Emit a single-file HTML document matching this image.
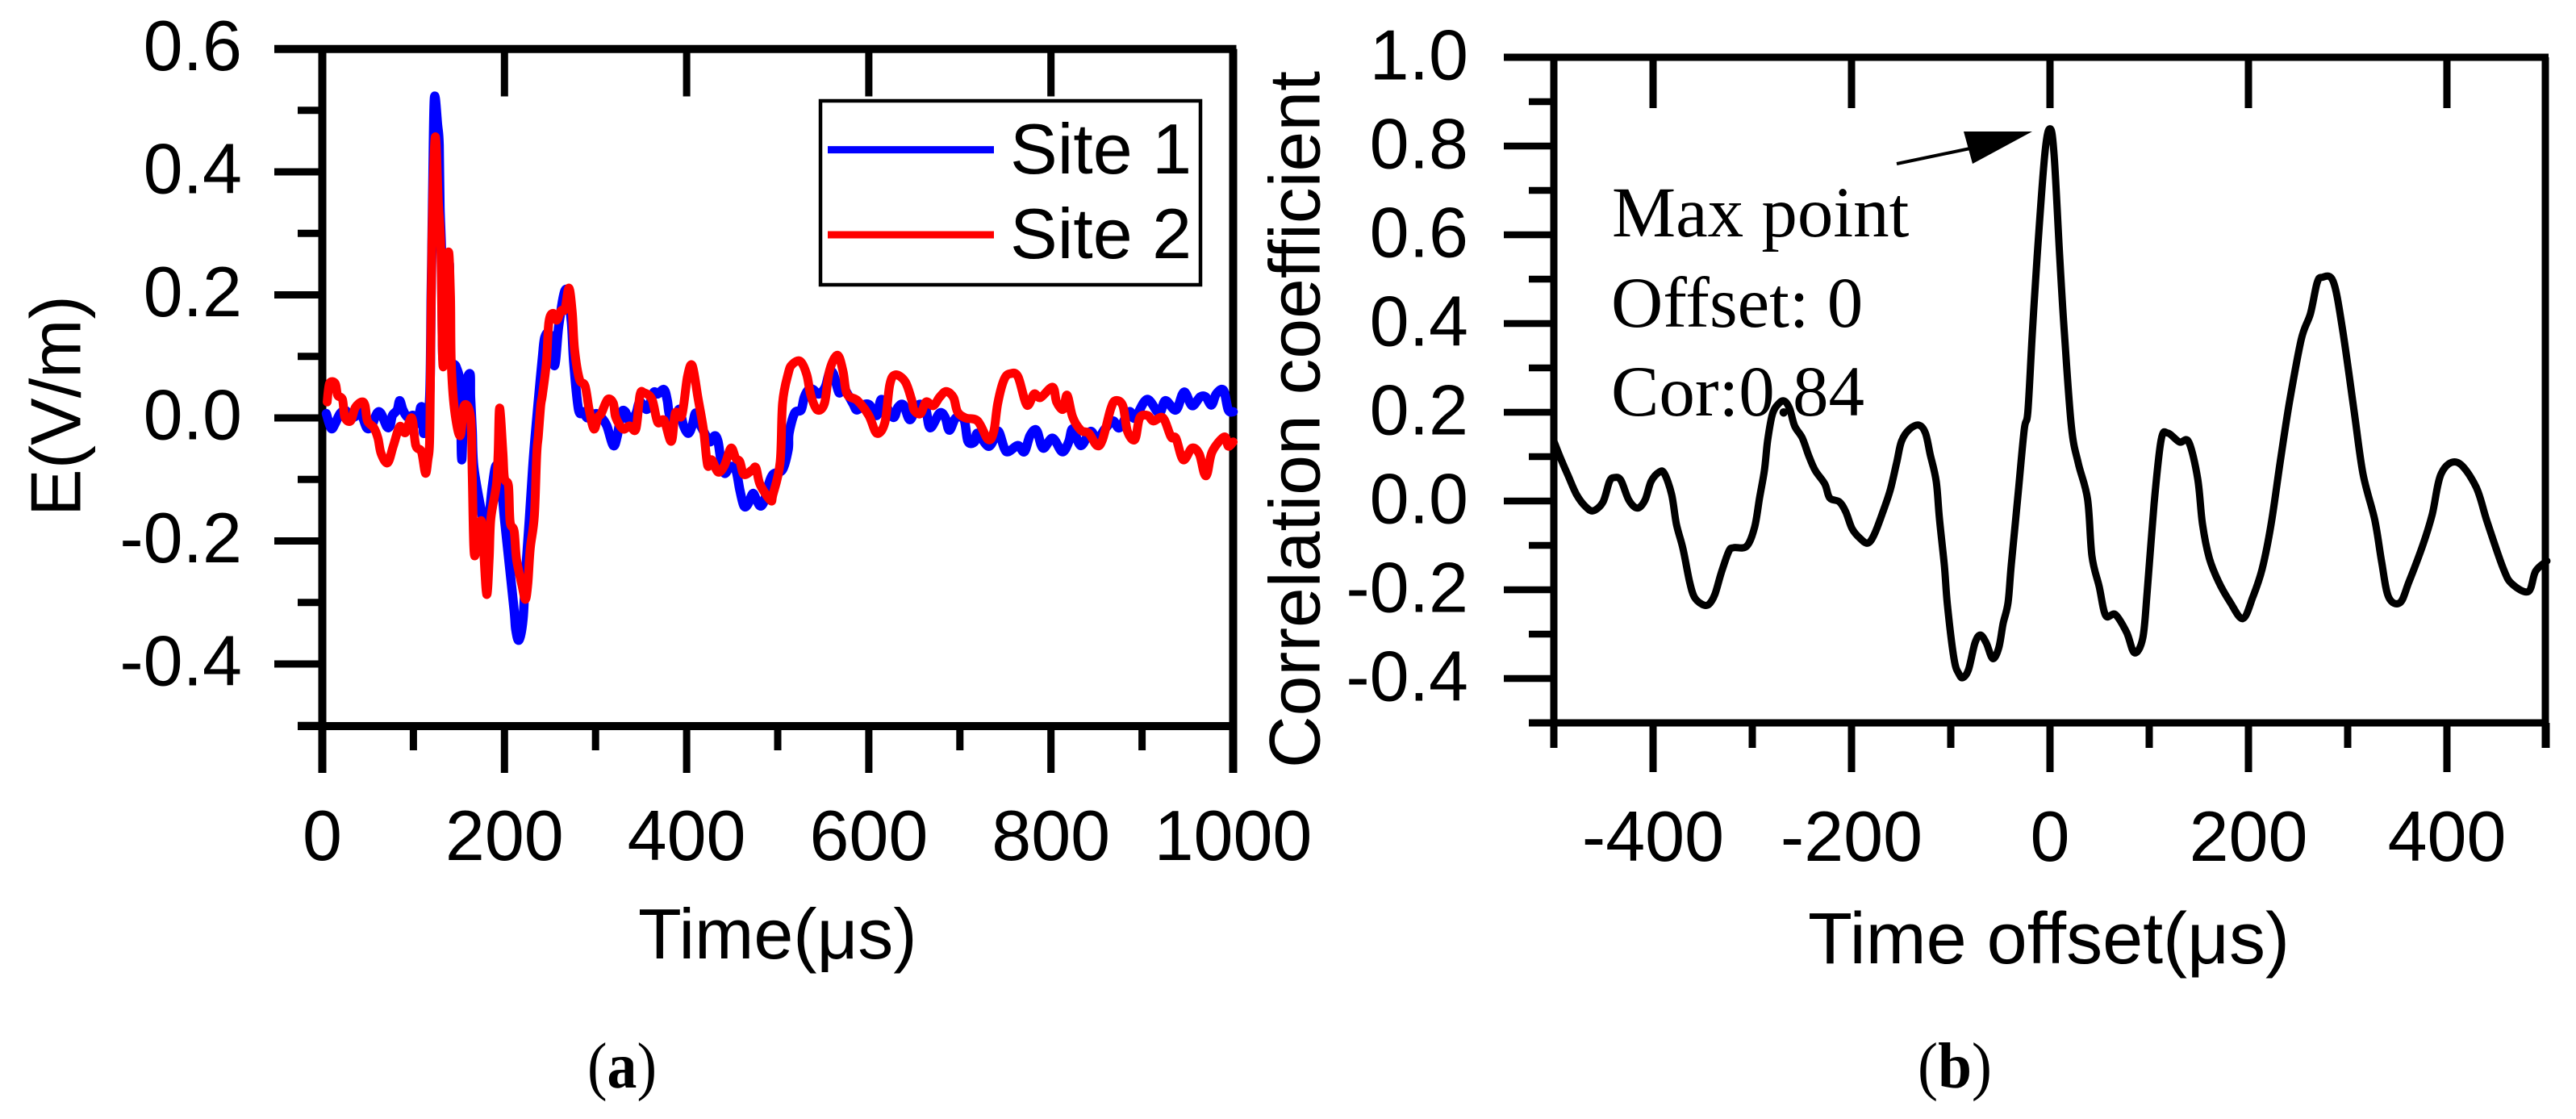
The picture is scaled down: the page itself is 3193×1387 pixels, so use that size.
<!DOCTYPE html>
<html lang="en">
<head>
<meta charset="utf-8">
<title>Electric field waveforms and correlation coefficient</title>
<style>
html,body{margin:0;padding:0;background:#fff;}
svg{display:block;}
.sans{font-family:"Liberation Sans",Arial,sans-serif;font-size:88px;fill:#000;}
.serif{font-family:"Liberation Serif","Times New Roman",serif;font-size:89px;fill:#000;}
.cap{font-family:"Liberation Serif","Times New Roman",serif;font-size:80px;fill:#000;}
</style>
</head>
<body>
<svg id="figure" xmlns="http://www.w3.org/2000/svg" width="3193" height="1387" viewBox="0 0 3193 1387">
  <rect x="0" y="0" width="3193" height="1387" fill="#fff"/>
  <g id="panel-a"></g>
  <g id="panel-b"></g>

  <text class="sans" transform="translate(99.5,640) rotate(-90)">E(V/m)</text>
  <text class="sans" x="791" y="1188">Time(μs)</text>
  <text class="cap" x="728" y="1348" textLength="86" lengthAdjust="spacingAndGlyphs">(<tspan font-weight="bold">a</tspan>)</text>

  <g>
    <rect x="1017" y="125" width="471" height="228" fill="#fff" stroke="#000" stroke-width="4.5"/>
    <line x1="1026" y1="185.6" x2="1232" y2="185.6" stroke="#0000ff" stroke-width="9"/>
    <text class="sans" x="1252" y="215">Site 1</text>
    <line x1="1026" y1="291" x2="1232" y2="291" stroke="#ff0000" stroke-width="9"/>
    <text class="sans" x="1252" y="320">Site 2</text>
  </g>

  <text class="sans" transform="translate(1635.5,952) rotate(-90)" style="font-size:89.5px">Correlation coefficient</text>
  <text class="sans" x="2241" y="1194" style="font-size:90px">Time offset(μs)</text>
  <text class="cap" x="2377" y="1348" textLength="92" lengthAdjust="spacingAndGlyphs">(<tspan font-weight="bold">b</tspan>)</text>

  <g>
    <text class="serif" x="1998" y="293">Max point</text>
    <text class="serif" x="1997" y="405">Offset: 0</text>
    <text class="serif" x="1997" y="515">Cor:0.84</text>
    <line x1="2351" y1="203" x2="2442" y2="184" stroke="#000" stroke-width="4"/>
    <polygon points="2519,163 2434,163 2445,203" fill="#000"/>
  </g>
</svg>

<script>
const aXMajor = [0, 200, 400, 600, 800, 1000];
const aXMinor = [100, 300, 500, 700, 900];
const aYMajor = [0.6, 0.4, 0.2, 0.0, -0.2, -0.4];
const aYMinor = [0.5, 0.3, 0.1, -0.1, -0.3, -0.5];
const aXLabels = ['0', '200', '400', '600', '800', '1000'];
const aYLabels = ['0.6', '0.4', '0.2', '0.0', '-0.2', '-0.4'];

const bXMajor = [-400, -200, 0, 200, 400];
const bXMinor = [-500, -300, -100, 100, 300, 500];
const bYMajor = [1.0, 0.8, 0.6, 0.4, 0.2, 0.0, -0.2, -0.4];
const bYMinor = [0.9, 0.7, 0.5, 0.3, 0.1, -0.1, -0.3, -0.5];
const bXLabels = ['-400', '-200', '0', '200', '400'];
const bYLabels = ['1.0', '0.8', '0.6', '0.4', '0.2', '0.0', '-0.2', '-0.4'];

const site1Time = [4.4,9.7,14.2,19.5,25.7,31,38,42.5,48.7,54,60.2,64.6,70.8,74.3,77,82.3,85,88.5,93.8,100,104.4,108,110.6,111.5,117.7,119.5,121.2,123,126.6,128.3,129.2,131,132.7,139,139.8,140.7,146.9,151.3,153.1,155.8,162,162.8,164.6,166.4,175.2,180.5,186.7,191.2,196.5,200,204.4,210.6,212.4,215.9,220.4,223,227.4,231,234.5,238,241.6,244.3,249.6,254.9,259.3,263.7,266.4,269,273.5,276.1,281.4,286.7,291.2,300,306.2,312.4,319.5,323.9,328.3,332.8,337.2,344.3,348.7,356.7,363.7,368.2,375.2,378.8,381.4,387.6,392,396.5,401.8,406.2,409.8,414.2,421.3,425.7,431,434.5,437.2,441.6,447.8,454,458.4,462.9,467.3,472.6,476.1,480.6,485,489.4,494.7,505.3,511.5,512.4,518.6,525.7,529.2,534.5,539,545.2,552.2,556.7,561.1,567.3,571.7,582.3,586.8,593.8,600.9,608.9,614.2,626.6,631.9,638.1,645.2,653.1,662,667.3,677.9,684.1,688.5,695.6,704.5,708.9,716,719.5,731,738.1,742.5,748.7,753.1,763.8,770.8,777,784.1,791.2,801.8,812.4,819.5,823.9,832.8,843.4,850.5,859.3,868.2,875.3,885.9,892.1,905.4,918.6,925.7,937.2,946.1,954.9,963.8,970,976.2,981.5,989.4,994.7,1000];
const site1E = [.007,-.017,-.009,.007,.012,0,.004,.008,-.016,-.013,.008,.007,-.014,-.013,.004,.013,.028,.013,.001,.004,-.009,.017,.010,-.025,.028,.198,.365,.519,.476,.443,.342,.264,.093,.250,.177,.098,.083,.050,-.068,.039,.072,.033,-.020,-.081,-.156,-.190,-.111,-.077,-.111,-.164,-.226,-.313,-.344,-.361,-.327,-.256,-.164,-.081,-.016,.041,.098,.131,.135,.085,.146,.190,.207,.203,.155,.089,.013,.010,0,.007,.001,-.013,-.045,-.029,.008,.010,-.005,.007,.026,.014,.041,.039,.046,.028,.004,-.003,.014,-.012,-.025,-.012,.008,-.009,-.029,-.039,-.029,-.039,-.064,-.090,-.079,-.085,-.117,-.143,-.140,-.123,-.131,-.143,-.136,-.111,-.092,-.084,-.051,-.025,.008,.013,.034,.047,.046,.039,.050,.073,.072,.041,.050,.024,.013,.021,.021,.004,.030,.001,.017,.021,-.003,.020,.017,-.016,.008,0,-.020,0,-.003,-.038,-.039,-.025,-.046,-.033,-.022,-.049,-.055,-.045,-.055,-.029,-.020,-.049,-.033,-.055,-.039,-.018,-.045,-.022,-.035,-.018,-.005,-.016,.010,0,.030,.008,.028,.013,.042,.020,.034,.034,.021,.039,.045,.013,.010];

const site2Time = [5.3,8,14.2,16.8,22.1,24.8,31,36.3,43.4,46.9,49.6,56.6,61.1,64.6,71.7,77.9,85,91.2,98.2,102.7,108.9,113.3,115.9,117.7,118.6,120.4,123.9,127.4,130.1,132.7,138.1,140.7,141.6,145.1,151.3,155.8,162.8,164.6,166.4,169,174.3,177,180.5,183.2,185,191.2,193,194.7,198.2,200,204.4,206.2,210.6,213.3,219.5,223,225.7,228.3,232.8,235.4,237.2,239.8,241.6,246,248.7,253.1,257.5,262,266.4,270.8,274.4,277,282.3,288.5,292.9,298.2,302.7,306.2,313.3,319.5,322.1,330.1,337.2,344.3,348.7,353.1,362,368.2,375.2,383.2,387.6,394.7,400.9,406.2,412.4,418.6,423,427.5,434.5,441.6,448.7,454,458.4,462.9,471.7,476.1,480.6,492.1,494.7,502.7,505.3,511.5,515.9,524.8,531.9,536.3,543.4,551.4,556.7,565.5,571.7,576.1,587.6,600,608.9,617.7,623,629.2,639.9,646.9,649.6,656.7,662.9,670.8,677.9,685,693,697.4,706.2,719.5,731,737.2,741.6,748.7,755.8,763.8,773.5,781.5,788.5,801.8,806.2,813.3,817.7,823.9,832.8,841.6,850.5,856.7,865.5,870.8,878.8,884.1,892.1,897.4,906.2,912.4,923,931.9,937.2,945.2,954.9,962.9,968.2,971.7,977,990.3,994.7,1000];
const site2E = [.026,.056,.056,.037,.030,.001,-.005,.017,.026,.020,-.005,-.016,-.033,-.058,-.073,-.046,-.014,-.024,0,-.045,-.055,-.090,-.068,-.042,.046,.286,.456,.351,.277,.083,.266,.198,.089,.014,-.029,.020,.001,-.090,-.212,-.215,-.167,-.212,-.287,-.230,-.164,-.108,-.059,.016,-.055,-.098,-.111,-.169,-.184,-.230,-.274,-.295,-.269,-.212,-.160,-.059,-.029,.020,.037,.089,.155,.170,.159,.174,.177,.211,.172,.111,.063,.052,.014,-.018,.001,.007,.030,.024,.001,-.018,-.013,-.018,.037,.041,.030,-.007,-.004,-.038,.008,.004,.067,.085,.033,-.020,-.077,-.068,-.088,-.077,-.049,-.066,-.071,-.092,-.085,-.081,-.108,-.134,-.125,-.072,.024,.072,.087,.092,.070,.037,.013,.024,.076,.102,.076,.039,.028,.004,-.025,-.007,.054,.070,.059,.030,.013,.007,.026,.020,.034,.043,.033,.010,0,-.005,-.035,-.022,.024,.063,.072,.067,.021,.039,.033,.050,.026,.014,.037,.001,-.020,-.025,-.045,-.035,.014,.028,.020,-.022,-.035,0,.004,-.005,0,-.031,-.033,-.068,-.049,-.059,-.090,-.090,-.055,-.031,-.046,-.039];

const corrOffset = [-500,-493.5,-485.4,-477.2,-467.9,-460.2,-450.4,-443.9,-439,-432.5,-424.4,-415.8,-408.1,-402,-394,-388.6,-381.3,-376.4,-369.9,-363.4,-358.5,-350.4,-343.9,-337.8,-331.3,-323.6,-318.7,-305.7,-297.6,-292.7,-287.8,-284.6,-279.7,-273.2,-267.5,-262.2,-257.3,-249.6,-243.1,-236.6,-226.8,-222,-212.2,-205.7,-199.5,-191.5,-183.7,-177.2,-169.1,-161,-154.5,-149.6,-141.5,-132,-125.5,-120.7,-114.6,-111.4,-106.5,-103.3,-96.7,-91.9,-87.8,-82.1,-75.6,-70.2,-64.2,-57.7,-51.6,-47.2,-42.3,-39,-32.5,-26,-22.3,-17.9,-13,-5.2,0,4.1,9.8,14.6,21.6,28.5,37.9,42.3,49.6,56.1,65.9,77.2,85.1,93.5,98,104.9,112,118.7,130.5,139.8,148.8,153.7,160.6,169.9,181.3,194.3,204.5,213.8,222.8,232.5,241.5,253.2,262.4,269.1,274,285.4,294.8,306.5,315.4,327.2,334.1,341.1,352.8,361.8,375.6,385.1,394.3,410.6,429.1,440.6,456.9,465.8,482.1,489.4,500.8];
const corrValue = [.135,.098,.056,.015,-.013,-.022,-.002,.044,.053,.047,.002,-.016,.002,.044,.065,.062,.015,-.053,-.107,-.180,-.216,-.233,-.233,-.211,-.162,-.113,-.105,-.102,-.058,.007,.069,.135,.196,.220,.225,.207,.169,.142,.102,.069,.038,.007,-.002,-.025,-.062,-.084,-.095,-.076,-.029,.025,.087,.135,.162,.171,.153,.105,.044,-.040,-.144,-.235,-.356,-.389,-.398,-.380,-.320,-.302,-.320,-.355,-.331,-.276,-.229,-.144,.007,.160,.202,.375,.549,.782,.839,.782,.549,.375,.167,.085,.004,-.124,-.193,-.258,-.256,-.296,-.342,-.309,-.204,-.007,.138,.153,.133,.133,.051,-.053,-.129,-.182,-.227,-.265,-.216,-.153,-.053,.096,.225,.364,.422,.491,.504,.495,.387,.202,.062,-.042,-.135,-.216,-.229,-.182,-.100,-.031,.062,.087,.033,-.047,-.153,-.187,-.204,-.158,-.135];

const NS = 'http://www.w3.org/2000/svg';

function ax(t) { return 399.5 + t * 1.129; }
function ay(v) { return 518 - v * 762.5; }
function bx(t) { return 2541 + t * 1.23; }
function by(v) { return 71 + (1 - v) * 550; }

function addLine(parent, name, x1, y1, x2, y2, width) {
  const el = document.createElementNS(NS, 'line');
  
  
  el.setAttribute('x1', x1);
  el.setAttribute('y1', y1);
  el.setAttribute('x2', x2);
  el.setAttribute('y2', y2);
  el.setAttribute('stroke', '#000');
  el.setAttribute('stroke-width', width);
  parent.appendChild(el);
}

function addText(parent, name, x, y, anchor, label) {
  const el = document.createElementNS(NS, 'text');
  
  
  el.setAttribute('class', 'sans');
  el.setAttribute('x', x);
  el.setAttribute('y', y);
  el.setAttribute('text-anchor', anchor);
  el.textContent = label;
  parent.appendChild(el);
}

function smoothPath(xs, ys, fx, fy) {
  const px = xs.map(fx);
  const py = ys.map(fy);
  const n = px.length;
  let d = 'M' + px[0].toFixed(1) + ' ' + py[0].toFixed(1);
  for (let i = 0; i < n - 1; i++) {
    const a = Math.max(i - 1, 0);
    const b = Math.min(i + 2, n - 1);
    const c1x = px[i] + (px[i + 1] - px[a]) / 6;
    const c1y = py[i] + (py[i + 1] - py[a]) / 6;
    const c2x = px[i + 1] - (px[b] - px[i]) / 6;
    const c2y = py[i + 1] - (py[b] - py[i]) / 6;
    d += 'C' + c1x.toFixed(1) + ' ' + c1y.toFixed(1) + ' ' + c2x.toFixed(1) + ' ' + c2y.toFixed(1) + ' ' + px[i + 1].toFixed(1) + ' ' + py[i + 1].toFixed(1);
  }
  return d;
}

function addSeries(parent, name, xs, ys, fx, fy, color, width) {
  const el = document.createElementNS(NS, 'path');
  
  
  el.setAttribute('d', smoothPath(xs, ys, fx, fy));
  el.setAttribute('fill', 'none');
  el.setAttribute('stroke', color);
  el.setAttribute('stroke-width', width);
  el.setAttribute('stroke-linejoin', 'round');
  el.setAttribute('stroke-linecap', 'round');
  parent.appendChild(el);
}

function drawPanelA() {
  const g = document.getElementById('panel-a');
  const T = 60.7, B = 900, L = 399.5, R = 1528.5, W = 10;
  addLine(g, 'panel-a-top-axis', 340, T, R + 4, T, W);
  addLine(g, 'panel-a-bottom-axis', 369, B, R + 4, B, W);
  addLine(g, 'panel-a-left-axis', L, T, L, 958, W);
  addLine(g, 'panel-a-right-axis', R, T, R, 958, W);
  aXMajor.forEach(function (t, i) {
    addLine(g, 'panel-a-x-major-tick', ax(t), B, ax(t), 958, 9);
    if (t > 0 && t < 1000) addLine(g, 'panel-a-top-tick', ax(t), T, ax(t), 119.5, 9);
    addText(g, 'panel-a-x-tick-label', ax(t), 1066, 'middle', aXLabels[i]);
  });
  aXMinor.forEach(function (t) {
    addLine(g, 'panel-a-x-minor-tick', ax(t), B, ax(t), 930, 9);
  });
  aYMajor.forEach(function (v, i) {
    addLine(g, 'panel-a-y-major-tick', 340, ay(v), L, ay(v), 9);
    addText(g, 'panel-a-y-tick-label', 300, ay(v) + 26.6, 'end', aYLabels[i]);
  });
  aYMinor.forEach(function (v) {
    addLine(g, 'panel-a-y-minor-tick', 369, ay(v), L, ay(v), 9);
  });
  addSeries(g, 'series-site-1', site1Time, site1E, ax, ay, '#0000ff', 11.5);
  addSeries(g, 'series-site-2', site2Time, site2E, ax, ay, '#ff0000', 11);
}

function drawPanelB() {
  const g = document.getElementById('panel-b');
  const T = 71, B = 896, L = 1926, R = 3155, W = 9;
  addLine(g, 'panel-b-top-axis', 1864, T, R + 4, T, W);
  addLine(g, 'panel-b-bottom-axis', 1895, B, R + 4, B, W);
  addLine(g, 'panel-b-left-axis', L, T, L, 927, W);
  addLine(g, 'panel-b-right-axis', R, T, R, 927, W);
  bXMajor.forEach(function (t, i) {
    addLine(g, 'panel-b-x-major-tick', bx(t), B, bx(t), 957, 9);
    addLine(g, 'panel-b-top-tick', bx(t), T, bx(t), 134, 9);
    addText(g, 'panel-b-x-tick-label', bx(t), 1067, 'middle', bXLabels[i]);
  });
  bXMinor.forEach(function (t) {
    addLine(g, 'panel-b-x-minor-tick', bx(t), B, bx(t), 927, 9);
  });
  bYMajor.forEach(function (v, i) {
    addLine(g, 'panel-b-y-major-tick', 1864, by(v), L, by(v), 8.5);
    addText(g, 'panel-b-y-tick-label', 1820, by(v) + 27.5, 'end', bYLabels[i]);
  });
  bYMinor.forEach(function (v) {
    addLine(g, 'panel-b-y-minor-tick', 1895, by(v), L, by(v), 8.5);
  });
  addSeries(g, 'series-correlation', corrOffset, corrValue, bx, by, '#000', 9);
}

drawPanelA();
drawPanelB();
</script>
</body>
</html>
